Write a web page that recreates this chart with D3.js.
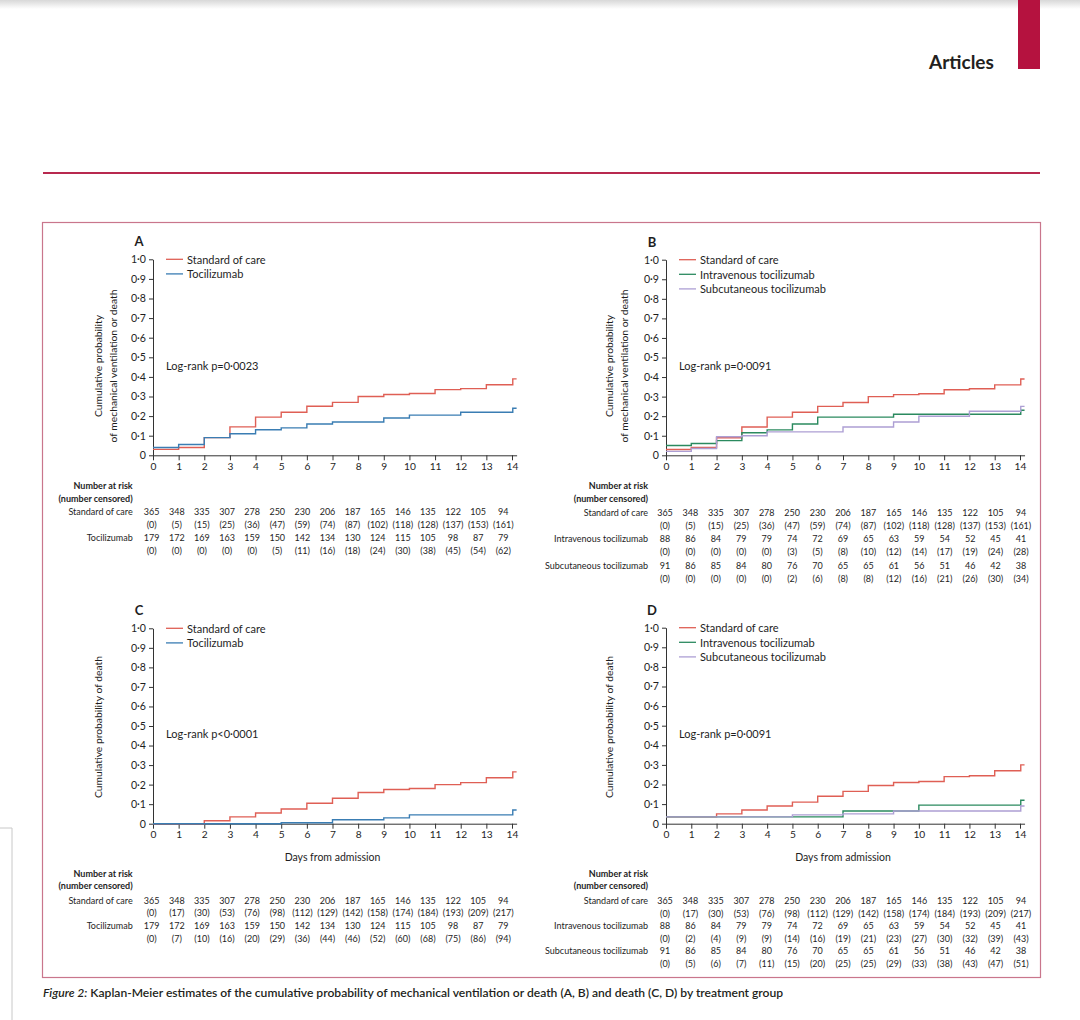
<!DOCTYPE html>
<html><head><meta charset="utf-8">
<script src="https://cdn.jsdelivr.net/npm/d3@7"></script>
<style>
body{margin:0;background:#fff;}
svg{display:block;font-family:Lato,"Open Sans",sans-serif;}
</style></head><body>
<svg id="chart" width="1080" height="1020"></svg>
<script>
// ---------- data ----------
const stepDays = [0,1,2,3,4,5,6,7,8,9,10,11,12,13,14.03];
const endDay = 14.18;
const xTickDays = [0,1,2,3,4,5,6,7,8,9,10,11,12,13,14];
const yTickValues = [0,0.1,0.2,0.3,0.4,0.5,0.6,0.7,0.8,0.9,1.0];
const riskDays = [0,1,2,3,4,5,6,7,8,9,10,11,12,13,14];

// Panel A: mechanical ventilation or death
const A_soc  = [0.03,0.04,0.09,0.145,0.195,0.22,0.25,0.27,0.30,0.31,0.315,0.335,0.34,0.36,0.39];
const A_toci = [0.04,0.055,0.09,0.11,0.13,0.14,0.16,0.17,0.17,0.19,0.205,0.205,0.22,0.22,0.24];
// Panel B
const B_soc  = [0.03,0.04,0.09,0.145,0.195,0.22,0.25,0.27,0.30,0.31,0.315,0.335,0.34,0.36,0.39];
const B_iv   = [0.05,0.06,0.075,0.115,0.13,0.16,0.195,0.195,0.195,0.21,0.21,0.21,0.21,0.21,0.23];
const B_sc   = [0.02,0.035,0.095,0.10,0.12,0.12,0.12,0.145,0.145,0.17,0.20,0.20,0.225,0.225,0.25];
// Panel C: death
const C_soc  = [0,0,0.015,0.035,0.055,0.075,0.105,0.13,0.16,0.175,0.18,0.20,0.21,0.235,0.265];
const C_toci = [0,0,0,0,0,0.005,0.005,0.02,0.02,0.03,0.045,0.045,0.045,0.045,0.07];
// Panel D
const D_soc  = [0.035,0.035,0.05,0.07,0.09,0.11,0.14,0.165,0.195,0.21,0.215,0.24,0.245,0.27,0.30];
const D_iv   = [0.035,0.035,0.035,0.035,0.035,0.035,0.035,0.065,0.065,0.065,0.095,0.095,0.095,0.095,0.12];
const D_sc   = [0.035,0.035,0.035,0.035,0.035,0.045,0.045,0.05,0.05,0.065,0.065,0.065,0.065,0.065,0.09];

// Numbers at risk
const socAtRisk  = [365,348,335,307,278,250,230,206,187,165,146,135,122,105,94];
const tociAtRisk = [179,172,169,163,159,150,142,134,130,124,115,105,98,87,79];
const ivAtRisk   = [88,86,84,79,79,74,72,69,65,63,59,54,52,45,41];
const scAtRisk   = [91,86,85,84,80,76,70,65,65,61,56,51,46,42,38];
// Numbers censored
const A_socCens  = [0,5,15,25,36,47,59,74,87,102,118,128,137,153,161];
const A_tociCens = [0,0,0,0,0,5,11,16,18,24,30,38,45,54,62];
const B_ivCens   = [0,0,0,0,0,3,5,8,10,12,14,17,19,24,28];
const B_scCens   = [0,0,0,0,0,2,6,8,8,12,16,21,26,30,34];
const C_socCens  = [0,17,30,53,76,98,112,129,142,158,174,184,193,209,217];
const C_tociCens = [0,7,10,16,20,29,36,44,46,52,60,68,75,86,94];
const D_ivCens   = [0,2,4,9,9,14,16,19,21,23,27,30,32,39,43];
const D_scCens   = [0,5,6,7,11,15,20,25,25,29,33,38,43,47,51];

// ---------- style ----------
const RED = "#df5f55", BLUE = "#3a7db3", GREEN = "#2b8a5f", PURPLE = "#ad9fd4";
const INK = "#1e1e1e", AXIS = "#333333", FRAME = "#c9768c", CRIMSON = "#b5123f";

const svg = d3.select("#chart");

// page decoration
const grad = svg.append("defs").append("linearGradient").attr("id","topShade").attr("x1",0).attr("y1",0).attr("x2",0).attr("y2",1);
grad.append("stop").attr("offset","0%").attr("stop-color","#d8d8d8");
grad.append("stop").attr("offset","100%").attr("stop-color","#ffffff");
svg.append("rect").attr("x",0).attr("y",0).attr("width",1080).attr("height",9).attr("fill","url(#topShade)");
svg.append("rect").attr("x",1018).attr("y",0).attr("width",22).attr("height",69).attr("fill",CRIMSON);
svg.append("text").attr("x",929).attr("y",69).attr("font-size",19).attr("font-weight",700).attr("fill","#231f20").text("Articles");
svg.append("line").attr("x1",43).attr("x2",1040).attr("y1",173).attr("y2",173).attr("stroke","#b8294f").attr("stroke-width",2);
svg.append("rect").attr("x",42.5).attr("y",222.5).attr("width",998).attr("height",755).attr("fill","none").attr("stroke",FRAME).attr("stroke-width",1.2);
svg.append("path").attr("d","M0,828H12V1020").attr("fill","none").attr("stroke","#c8c8c8").attr("stroke-width",1);

const cap = svg.append("text").attr("x",43).attr("y",997).attr("font-size",12.1).attr("font-weight",600).attr("fill","#231f20");
cap.append("tspan").attr("font-style","italic").text("Figure 2:");
cap.append("tspan").text(" Kaplan-Meier estimates of the cumulative probability of mechanical ventilation or death (A, B) and death (C, D) by treatment group");

const fmtY = d => d === 0 ? "0" : d3.format(".1f")(d).replace(".", "·");

const panels = [
  {letter:"A", x0:153, x14:512, y0:455.3, y1:259.3,
   yLabel:["Cumulative probability","of mechanical ventilation or death"], yLabelDx:[-55,-40], yLabelCy:366,
   logrank:"Log-rank p=0·0023", xTitle:null,
   series:[{name:"Standard of care",color:RED,values:A_soc},{name:"Tocilizumab",color:BLUE,values:A_toci}],
   table:{top:485.7, first:511.7, step:12.9, c0:151.7, c14:503.3, labelX:132.7,
          rows:[{label:"Standard of care",n:socAtRisk,c:A_socCens},{label:"Tocilizumab",n:tociAtRisk,c:A_tociCens}]}},
  {letter:"B", x0:666, x14:1020, y0:455.3, y1:259.7,
   yLabel:["Cumulative probability","of mechanical ventilation or death"], yLabelDx:[-57,-42], yLabelCy:366,
   logrank:"Log-rank p=0·0091", xTitle:null,
   series:[{name:"Standard of care",color:RED,values:B_soc},{name:"Intravenous tocilizumab",color:GREEN,values:B_iv},{name:"Subcutaneous tocilizumab",color:PURPLE,values:B_sc}],
   table:{top:485.7, first:512.3, step:13.2, c0:665, c14:1021, labelX:648,
          rows:[{label:"Standard of care",n:socAtRisk,c:A_socCens},{label:"Intravenous tocilizumab",n:ivAtRisk,c:B_ivCens},{label:"Subcutaneous tocilizumab",n:scAtRisk,c:B_scCens}]}},
  {letter:"C", x0:153, x14:512, y0:823.7, y1:628.3,
   yLabel:["Cumulative probability of death"], yLabelDx:[-55], yLabelCy:727,
   logrank:"Log-rank p<0·0001", xTitle:"Days from admission",
   series:[{name:"Standard of care",color:RED,values:C_soc},{name:"Tocilizumab",color:BLUE,values:C_toci}],
   table:{top:873.3, first:900, step:12.9, c0:151.7, c14:503.3, labelX:132.7,
          rows:[{label:"Standard of care",n:socAtRisk,c:C_socCens},{label:"Tocilizumab",n:tociAtRisk,c:C_tociCens}]}},
  {letter:"D", x0:666, x14:1020, y0:823.7, y1:627.7,
   yLabel:["Cumulative probability of death"], yLabelDx:[-57], yLabelCy:727,
   logrank:"Log-rank p=0·0091", xTitle:"Days from admission",
   series:[{name:"Standard of care",color:RED,values:D_soc},{name:"Intravenous tocilizumab",color:GREEN,values:D_iv},{name:"Subcutaneous tocilizumab",color:PURPLE,values:D_sc}],
   table:{top:873.3, first:900.7, step:12.55, c0:665, c14:1021, labelX:648,
          rows:[{label:"Standard of care",n:socAtRisk,c:C_socCens},{label:"Intravenous tocilizumab",n:ivAtRisk,c:D_ivCens},{label:"Subcutaneous tocilizumab",n:scAtRisk,c:D_scCens}]}}
];

panels.forEach(p => {
  const pxPerDay = (p.x14 - p.x0) / 14;
  const x = d3.scaleLinear().domain([0, endDay]).range([p.x0, p.x0 + endDay * pxPerDay]);
  const y = d3.scaleLinear().domain([0, 1]).range([p.y0, p.y1]);
  const g = svg.append("g");

  // axes
  const xAx = g.append("g").attr("transform", `translate(0,${p.y0})`)
    .call(d3.axisBottom(x).tickValues(xTickDays).tickSize(5).tickSizeOuter(0).tickPadding(2).tickFormat(d3.format("d")));
  const yAx = g.append("g").attr("transform", `translate(${p.x0},0)`)
    .call(d3.axisLeft(y).tickValues(yTickValues).tickSize(4).tickSizeOuter(0).tickPadding(3).tickFormat(fmtY));
  [xAx, yAx].forEach(a => {
    a.selectAll("path,line").attr("stroke", AXIS).attr("stroke-width", 1);
    a.selectAll("text").attr("fill", INK).attr("font-family", "Lato, sans-serif");
  });
  xAx.selectAll("text").attr("font-size", 10.2);
  yAx.selectAll("text").attr("font-size", 10.6);

  // curves
  const line = d3.line().x(d => x(d[0])).y(d => y(d[1])).curve(d3.curveStepAfter);
  p.series.forEach(s => {
    const pts = stepDays.map((t, i) => [t, s.values[i]]);
    pts.push([endDay, s.values[s.values.length - 1]]);
    g.append("path").datum(pts).attr("d", line).attr("fill", "none")
      .attr("stroke", s.color).attr("stroke-width", 1.4);
  });

  // panel letter
  g.append("text").attr("x", p.x0 - 14).attr("y", p.y1 - 18).attr("text-anchor", "middle")
    .attr("dominant-baseline", "central").attr("font-size", 13).attr("font-weight", 700).attr("fill", INK).text(p.letter);

  // legend
  p.series.forEach((s, i) => {
    const ly = p.y1 + i * 14.6;
    g.append("line").attr("x1", p.x0 + 13).attr("x2", p.x0 + 30).attr("y1", ly).attr("y2", ly)
      .attr("stroke", s.color).attr("stroke-width", 1.3);
    g.append("text").attr("x", p.x0 + 34).attr("y", ly).attr("dominant-baseline", "central")
      .attr("font-size", 11).attr("fill", INK).text(s.name);
  });

  // log-rank
  g.append("text").attr("x", p.x0 + 13).attr("y", y(0.46)).attr("dominant-baseline", "central")
    .attr("font-size", 11).attr("fill", INK).text(p.logrank);

  // y label
  p.yLabel.forEach((t, i) => {
    g.append("text").attr("transform", `translate(${p.x0 + p.yLabelDx[i]},${p.yLabelCy}) rotate(-90)`)
      .attr("text-anchor", "middle").attr("dominant-baseline", "central")
      .attr("font-size", 10.3).attr("fill", INK).text(t);
  });

  // x title
  if (p.xTitle) {
    g.append("text").attr("x", x(7)).attr("y", p.y0 + 33).attr("text-anchor", "middle")
      .attr("dominant-baseline", "central").attr("font-size", 10.5).attr("fill", INK).text(p.xTitle);
  }

  // risk table
  const t = p.table;
  const cx = d3.scaleLinear().domain([0, 14]).range([t.c0, t.c14]);
  g.append("text").attr("x", t.labelX).attr("y", t.top).attr("text-anchor", "end").attr("dominant-baseline", "central")
    .attr("font-size", 9).attr("font-weight", 700).attr("fill", INK).text("Number at risk");
  g.append("text").attr("x", t.labelX).attr("y", t.top + 12.4).attr("text-anchor", "end").attr("dominant-baseline", "central")
    .attr("font-size", 9).attr("font-weight", 700).attr("fill", INK).text("(number censored)");
  t.rows.forEach((r, k) => {
    const ry = t.first + k * 2 * t.step;
    g.append("text").attr("x", t.labelX).attr("y", ry).attr("text-anchor", "end").attr("dominant-baseline", "central")
      .attr("font-size", 9).attr("fill", INK).text(r.label);
    g.selectAll(null).data(riskDays).enter().append("text")
      .attr("x", d => cx(d)).attr("y", ry).attr("text-anchor", "middle").attr("dominant-baseline", "central")
      .attr("font-size", 9).attr("fill", INK).text((d, i) => r.n[i]);
    g.selectAll(null).data(riskDays).enter().append("text")
      .attr("x", d => cx(d)).attr("y", ry + t.step).attr("text-anchor", "middle").attr("dominant-baseline", "central")
      .attr("font-size", 9).attr("fill", INK).text((d, i) => `(${r.c[i]})`);
  });
});
</script>
</body></html>
